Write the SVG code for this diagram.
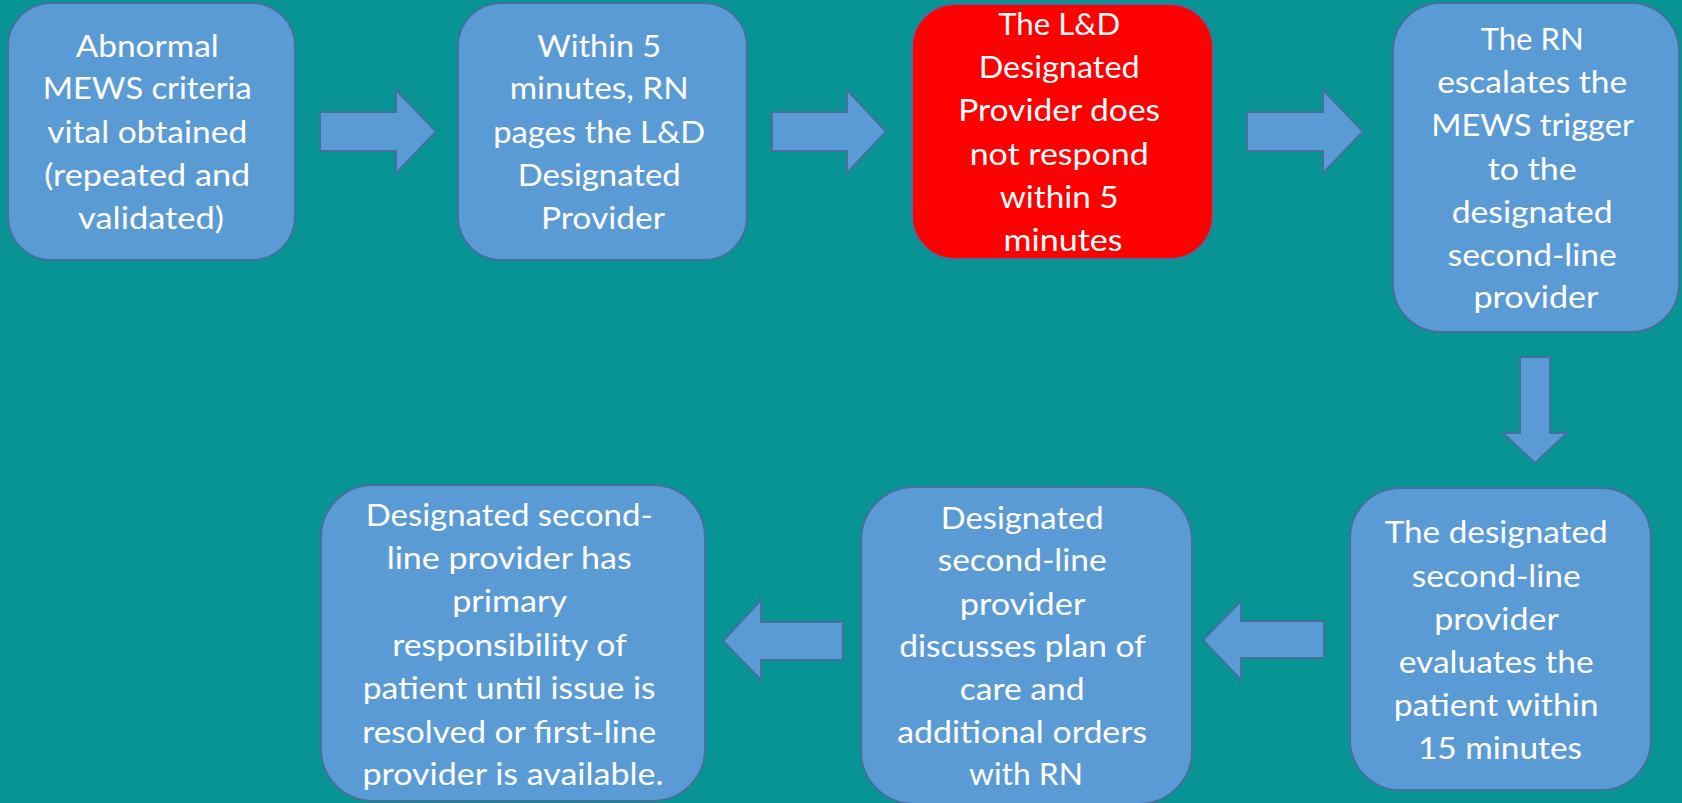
<svg xmlns="http://www.w3.org/2000/svg" width="1682" height="803" viewBox="0 0 1682 803">
  <style>
    .box { fill: #5B9BD5; stroke: #41719C; stroke-width: 2; }
    .alert { fill: #FF0000; stroke: #41719C; stroke-width: 2; }
    .arrow { fill: #5B9BD5; stroke: #41719C; stroke-width: 2; stroke-linejoin: miter; }
    .label { font-family: Lato, "Open Sans", "Liberation Sans", sans-serif; font-size: 30px; fill: #FFFFFF; text-anchor: middle; }
  </style>

  <!-- background -->
  <rect x="0" y="0" width="1682" height="803" fill="#089494"/>

  <!-- flow arrows -->
  <g id="connectors">
    <polygon class="arrow" points="320,112 396,112 396,90 436,131.5 396,173 396,151 320,151"/>
    <polygon class="arrow" points="772,112 847,112 847,90 886,131.5 847,173 847,151 772,151"/>
    <polygon class="arrow" points="1247,112 1323,112 1323,90 1363,131.5 1323,173 1323,151 1247,151"/>
    <polygon class="arrow" points="1520,357 1550,357 1550,433 1567,433 1535,463 1503,433 1520,433"/>
    <polygon class="arrow" points="1324,621 1241,621 1241,601 1203,640 1241,680 1241,658 1324,658"/>
    <polygon class="arrow" points="843,622 761,622 761,600 723,641 761,680 761,660 843,660"/>
  </g>

  <g id="node-abnormal-vitals">
    <rect class="box" x="8" y="3" width="287" height="257" rx="43" ry="43"/>
    <text class="label">
      <tspan x="151" y="57" textLength="143" lengthAdjust="spacingAndGlyphs">Abnormal</tspan>
      <tspan x="151" y="99" textLength="209" lengthAdjust="spacingAndGlyphs">MEWS criteria</tspan>
      <tspan x="151" y="143" textLength="200" lengthAdjust="spacingAndGlyphs">vital obtained</tspan>
      <tspan x="151" y="186" textLength="206" lengthAdjust="spacingAndGlyphs">(repeated and</tspan>
      <tspan x="151" y="229" textLength="146" lengthAdjust="spacingAndGlyphs">validated)</tspan>
    </text>
  </g>

  <g id="node-rn-pages">
    <rect class="box" x="458" y="3" width="289" height="257" rx="43" ry="43"/>
    <text class="label">
      <tspan x="603" y="57" textLength="124" lengthAdjust="spacingAndGlyphs">Within 5</tspan>
      <tspan x="603" y="99" textLength="179" lengthAdjust="spacingAndGlyphs">minutes, RN</tspan>
      <tspan x="603" y="143" textLength="212" lengthAdjust="spacingAndGlyphs">pages the L&amp;D</tspan>
      <tspan x="603" y="186" textLength="163" lengthAdjust="spacingAndGlyphs">Designated</tspan>
      <tspan x="603" y="229" textLength="124" lengthAdjust="spacingAndGlyphs">Provider</tspan>
    </text>
  </g>

  <g id="node-no-response">
    <rect class="alert" x="912" y="4" width="301" height="255" rx="43" ry="43"/>
    <text class="label">
      <tspan x="1063" y="35" textLength="122" lengthAdjust="spacingAndGlyphs">The L&amp;D</tspan>
      <tspan x="1063" y="78" textLength="161" lengthAdjust="spacingAndGlyphs">Designated</tspan>
      <tspan x="1063" y="121" textLength="202" lengthAdjust="spacingAndGlyphs">Provider does</tspan>
      <tspan x="1063" y="165" textLength="179" lengthAdjust="spacingAndGlyphs">not respond</tspan>
      <tspan x="1063" y="208" textLength="119" lengthAdjust="spacingAndGlyphs">within 5</tspan>
      <tspan x="1063" y="251" textLength="119" lengthAdjust="spacingAndGlyphs">minutes</tspan>
    </text>
  </g>

  <g id="node-escalate">
    <rect class="box" x="1393" y="3" width="286" height="329" rx="48" ry="48"/>
    <text class="label">
      <tspan x="1536" y="50" textLength="103" lengthAdjust="spacingAndGlyphs">The RN</tspan>
      <tspan x="1536" y="93" textLength="190" lengthAdjust="spacingAndGlyphs">escalates the</tspan>
      <tspan x="1536" y="136" textLength="202" lengthAdjust="spacingAndGlyphs">MEWS trigger</tspan>
      <tspan x="1536" y="180" textLength="89" lengthAdjust="spacingAndGlyphs">to the</tspan>
      <tspan x="1536" y="223" textLength="161" lengthAdjust="spacingAndGlyphs">designated</tspan>
      <tspan x="1536" y="266" textLength="169" lengthAdjust="spacingAndGlyphs">second-line</tspan>
      <tspan x="1536" y="308" textLength="125" lengthAdjust="spacingAndGlyphs">provider</tspan>
    </text>
  </g>

  <g id="node-evaluate">
    <rect class="box" x="1350" y="488" width="301" height="302" rx="50" ry="50"/>
    <text class="label">
      <tspan x="1500" y="543" textLength="223" lengthAdjust="spacingAndGlyphs">The designated</tspan>
      <tspan x="1500" y="587" textLength="169" lengthAdjust="spacingAndGlyphs">second-line</tspan>
      <tspan x="1500" y="630" textLength="124" lengthAdjust="spacingAndGlyphs">provider</tspan>
      <tspan x="1500" y="673" textLength="195" lengthAdjust="spacingAndGlyphs">evaluates the</tspan>
      <tspan x="1500" y="716" textLength="205" lengthAdjust="spacingAndGlyphs">patient within</tspan>
      <tspan x="1500" y="759" textLength="164" lengthAdjust="spacingAndGlyphs">15 minutes</tspan>
    </text>
  </g>

  <g id="node-plan-of-care">
    <rect class="box" x="861" y="487" width="331" height="317" rx="53" ry="53"/>
    <text class="label">
      <tspan x="1026" y="529" textLength="163" lengthAdjust="spacingAndGlyphs">Designated</tspan>
      <tspan x="1026" y="571" textLength="169" lengthAdjust="spacingAndGlyphs">second-line</tspan>
      <tspan x="1026" y="615" textLength="125" lengthAdjust="spacingAndGlyphs">provider</tspan>
      <tspan x="1026" y="657" textLength="246" lengthAdjust="spacingAndGlyphs">discusses plan of</tspan>
      <tspan x="1026" y="700" textLength="125" lengthAdjust="spacingAndGlyphs">care and</tspan>
      <tspan x="1026" y="743" textLength="250" lengthAdjust="spacingAndGlyphs">additional orders</tspan>
      <tspan x="1026" y="785" textLength="114" lengthAdjust="spacingAndGlyphs">with RN</tspan>
    </text>
  </g>

  <g id="node-primary-responsibility">
    <rect class="box" x="321" y="485" width="384" height="316" rx="52" ry="52"/>
    <text class="label">
      <tspan x="513" y="526" textLength="287" lengthAdjust="spacingAndGlyphs">Designated second-</tspan>
      <tspan x="513" y="569" textLength="245" lengthAdjust="spacingAndGlyphs">line provider has</tspan>
      <tspan x="513" y="612" textLength="114" lengthAdjust="spacingAndGlyphs">primary</tspan>
      <tspan x="513" y="656" textLength="234" lengthAdjust="spacingAndGlyphs">responsibility of</tspan>
      <tspan x="513" y="699" textLength="293" lengthAdjust="spacingAndGlyphs">patient until issue is</tspan>
      <tspan x="513" y="743" textLength="294" lengthAdjust="spacingAndGlyphs">resolved or first-line</tspan>
      <tspan x="513" y="785" textLength="301" lengthAdjust="spacingAndGlyphs">provider is available.</tspan>
    </text>
  </g>
</svg>
